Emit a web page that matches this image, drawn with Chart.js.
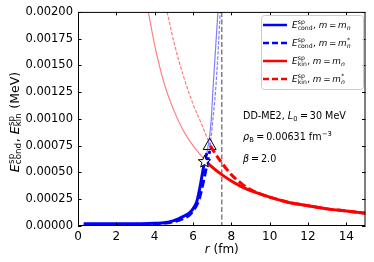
<!DOCTYPE html>
<html>
<head>
<meta charset="utf-8">
<script src="https://cdn.jsdelivr.net/npm/chart.js@4"></script>
<style>
  html, body { margin: 0; padding: 0; background: #fff; }
  canvas { display: block; }
</style>
</head>
<body>
<canvas id="myChart" width="374" height="262"></canvas>
<script>
// E_cond^sp, m = m_n (thick part, then faint continuation)
const condR = [0.3, 1, 2, 3, 4, 4.5, 5, 5.5, 5.8, 6.0, 6.2, 6.35, 6.5, 6.6, 6.72];
const condE = [0.00002, 0.00002, 0.00002, 0.00002, 0.000025, 0.00003, 0.00005, 0.00009, 0.00012, 0.00016, 0.00023, 0.00035, 0.0005, 0.0006, 0.00068];
const condThinR = [6.72, 6.85, 6.95, 7.04, 7.15, 7.3];
const condThinE = [0.00068, 0.00082, 0.00099, 0.00127, 0.00158, 0.002];

// E_cond^sp, m = m_n^*
const condStarR = [0.3, 1, 2, 3, 4, 4.5, 5, 5.5, 5.8, 6.0, 6.3, 6.5, 6.7, 6.87];
const condStarE = [0.00001, 0.00001, 0.00001, 0.000015, 0.00002, 0.000025, 0.00004, 0.00007, 0.0001, 0.00014, 0.00024, 0.00038, 0.00055, 0.0007];
const condStarThinR = [6.87, 7.0, 7.18, 7.3, 7.42];
const condStarThinE = [0.0007, 0.00093, 0.00127, 0.0016, 0.002];

// E_kin^sp, m = m_n
const kinR = [6.6, 7, 7.5, 8, 8.5, 9, 10, 11, 12, 13, 14, 15];
const kinE = [0.00062, 0.00055, 0.00048, 0.00042, 0.00037, 0.00033, 0.00027, 0.00022, 0.00019, 0.00016, 0.00014, 0.00012];
const kinThinR = [3.67, 4, 4.5, 5, 5.5, 6, 6.6];
const kinThinE = [0.002, 0.00169, 0.00133, 0.00108, 0.00089, 0.00075, 0.00062];

// E_kin^sp, m = m_n^*
const kinStarR = [6.9, 7, 7.5, 8, 8.5, 9, 9.5, 10, 11, 12, 13, 14, 15];
const kinStarE = [0.00075, 0.00072, 0.00059, 0.00048, 0.0004, 0.00034, 0.0003, 0.00027, 0.00022, 0.00019, 0.00016, 0.00014, 0.00012];
const kinStarThinR = [4.65, 5, 5.5, 6, 6.5, 6.9];
const kinStarThinE = [0.002, 0.00172, 0.0014, 0.00114, 0.00093, 0.00075];

// crossing markers and vertical line
const starR = [6.6];
const starE = [0.0006];
const triR = [6.87];
const triE = [0.00075];
const vlineR = 7.5;

const xTicks = [0, 2, 4, 6, 8, 10, 12, 14];
const yTicks = [0, 0.00025, 0.0005, 0.00075, 0.001, 0.00125, 0.0015, 0.00175, 0.002];

const FONT = '"DejaVu Sans"';
const TS = "\u2009"; // thin space around "="
function pts(xs, ys) {
  return xs.map((x, i) => ({ x: x, y: ys[i] }));
}
function line(xs, ys, color, width, dash) {
  return {
    data: pts(xs, ys),
    showLine: true,
    borderColor: color,
    borderWidth: width,
    borderDash: dash || [],
    pointRadius: 0,
    cubicInterpolationMode: "monotone",
    fill: false,
  };
}

function fnt(sz, it) {
  return (it ? "italic " : "") + sz + "px " + FONT;
}
function partWidth(ctx, p, sz) {
  if (p.t !== undefined) {
    ctx.font = fnt(sz, p.it);
    return ctx.measureText(p.t).width;
  }
  let w = 0;
  if (p.sup) {
    ctx.font = fnt(sz * 0.7, p.supIt);
    w = Math.max(w, ctx.measureText(p.sup).width);
  }
  if (p.sub) {
    ctx.font = fnt(sz * 0.7, p.subIt);
    w = Math.max(w, ctx.measureText(p.sub).width);
  }
  return w + sz * 0.06;
}
function drawRich(ctx, parts, x, y, sz, align) {
  const total = parts.reduce((a, p) => a + partWidth(ctx, p, sz), 0);
  let cx = align === "center" ? x - total / 2 : x;
  ctx.textAlign = "left";
  ctx.textBaseline = "alphabetic";
  ctx.fillStyle = "#000";
  parts.forEach((p) => {
    const w = partWidth(ctx, p, sz);
    if (p.t !== undefined) {
      ctx.font = fnt(sz, p.it);
      ctx.fillText(p.t, cx, y);
    } else {
      if (p.sup) {
        ctx.font = fnt(sz * 0.7, p.supIt);
        ctx.fillText(p.sup, cx + sz * 0.03, y - sz * 0.4);
      }
      if (p.sub) {
        ctx.font = fnt(sz * 0.7, p.subIt);
        ctx.fillText(p.sub, cx + sz * 0.01, y + sz * 0.22);
      }
    }
    cx += w;
  });
}

const eCond = [{ t: "E", it: true }, { sup: "sp", sub: "cond" }];
const eKin = [{ t: "E", it: true }, { sup: "sp", sub: "kin" }];
const mEq = [{ t: ", " }, { t: "m", it: true }, { t: TS + "=" + TS }, { t: "m", it: true }, { sub: "n", subIt: true }];
const mEqStar = [{ t: ", " }, { t: "m", it: true }, { t: TS + "=" + TS }, { t: "m", it: true }, { sub: "n", subIt: true, sup: "*" }];

const legendItems = [
  { color: "#0000ff", dash: [], text: eCond.concat(mEq) },
  { color: "#0000ff", dash: [6, 3], text: eCond.concat(mEqStar) },
  { color: "#ff0000", dash: [], text: eKin.concat(mEq) },
  { color: "#ff0000", dash: [6, 3], text: eKin.concat(mEqStar) },
];

const decorations = {
  id: "decorations",
  beforeDatasetsDraw(chart) {
    const { ctx, chartArea: a, scales } = chart;
    const vx = scales.x.getPixelForValue(vlineR);
    ctx.save();
    ctx.strokeStyle = "#808080";
    ctx.lineWidth = 1.5;
    ctx.setLineDash([5, 2.5]);
    ctx.beginPath();
    ctx.moveTo(vx, a.top);
    ctx.lineTo(vx, a.bottom);
    ctx.stroke();
    ctx.restore();
  },
  afterDatasetsDraw(chart) {
    const { ctx, chartArea: a, scales } = chart;
    ctx.save();
    // star marker
    starR.forEach((r, i) => {
      const px = scales.x.getPixelForValue(r);
      const py = scales.y.getPixelForValue(starE[i]);
      const R = 6.5, ri = 2.7;
      ctx.beginPath();
      for (let k = 0; k < 10; k++) {
        const ang = -Math.PI / 2 + (k * Math.PI) / 5;
        const rr = k % 2 === 0 ? R : ri;
        const X = px + rr * Math.cos(ang);
        const Y = py + rr * Math.sin(ang);
        if (k === 0) ctx.moveTo(X, Y);
        else ctx.lineTo(X, Y);
      }
      ctx.closePath();
      ctx.fillStyle = "#fff";
      ctx.fill();
      ctx.strokeStyle = "#000";
      ctx.lineWidth = 1;
      ctx.stroke();
    });

    // frame
    ctx.strokeStyle = "#000";
    ctx.lineWidth = 1;
    ctx.strokeRect(a.left + 0.5, a.top + 0.5, a.right - a.left - 1, a.bottom - a.top - 1);
    // inward ticks
    const tl = 3.5;
    ctx.beginPath();
    xTicks.forEach((v) => {
      const px = Math.round(scales.x.getPixelForValue(v)) + 0.5;
      ctx.moveTo(px, a.bottom);
      ctx.lineTo(px, a.bottom - tl);
      ctx.moveTo(px, a.top);
      ctx.lineTo(px, a.top + tl);
    });
    yTicks.forEach((v) => {
      const py = Math.round(scales.y.getPixelForValue(v)) + 0.5;
      ctx.moveTo(a.left, py);
      ctx.lineTo(a.left + tl, py);
      ctx.moveTo(a.right, py);
      ctx.lineTo(a.right - tl, py);
    });
    ctx.stroke();

    // legend
    const lx = 261, ly = 15, lw = 102, lh = 74;
    ctx.beginPath();
    ctx.roundRect(lx + 0.5, ly + 0.5, lw, lh, 3);
    ctx.fillStyle = "rgba(255,255,255,0.8)";
    ctx.fill();
    ctx.strokeStyle = "#cccccc";
    ctx.stroke();
    legendItems.forEach((it, i) => {
      const y = 25 + i * 18;
      ctx.strokeStyle = it.color;
      ctx.lineWidth = 2.5;
      ctx.setLineDash(it.dash);
      ctx.beginPath();
      ctx.moveTo(263, y);
      ctx.lineTo(287, y);
      ctx.stroke();
      ctx.setLineDash([]);
      drawRich(ctx, it.text, 292, y + 3, 8.8, "left");
    });

    // annotation text
    drawRich(ctx, [{ t: "DD-ME2, " }, { t: "L", it: true }, { sub: "0" }, { t: TS + "=" + TS + "30 MeV" }], 243, 119.3, 9.6, "left");
    drawRich(ctx, [{ t: "ρ", it: true }, { sub: "B" }, { t: TS + "=" + TS + "0.00631 fm" }, { sup: "−3" }], 243, 140, 9.6, "left");
    drawRich(ctx, [{ t: "β", it: true }, { t: TS + "=" + TS + "2.0" }], 243, 161.7, 9.6, "left");

    // axis titles
    drawRich(ctx, [{ t: "r", it: true }, { t: " (fm)" }], (a.left + a.right) / 2, 253, 12, "center");
    ctx.translate(14, 122);
    ctx.rotate(-Math.PI / 2);
    drawRich(ctx, eCond.concat([{ t: ", " }], eKin, [{ t: " (MeV)" }]), 0, 4.5, 12.5, "center");
    ctx.restore();
  },
};

Chart.defaults.font.family = FONT;
Chart.defaults.color = "#000";

const ctx = document.getElementById("myChart").getContext("2d");
const myChart = new Chart(ctx, {
  type: "scatter",
  data: {
    datasets: [
      line(kinThinR, kinThinE, "rgba(255,0,0,0.5)", 1.2),
      line(kinStarThinR, kinStarThinE, "rgba(255,0,0,0.5)", 1.2, [3.5, 1.6]),
      line(condThinR, condThinE, "rgba(0,0,255,0.5)", 1.2),
      line(condStarThinR, condStarThinE, "rgba(0,0,255,0.5)", 1.2, [3.5, 1.6]),
      line(condR, condE, "#0000ff", 3),
      line(condStarR, condStarE, "#0000ff", 3, [8, 3.5]),
      line(kinR, kinE, "#ff0000", 3),
      line(kinStarR, kinStarE, "#ff0000", 3, [8, 3.5]),
      {
        data: pts(triR, triE),
        pointStyle: "triangle",
        pointRadius: 7.5,
        pointBackgroundColor: "#fff",
        pointBorderColor: "#000",
        pointBorderWidth: 1,
        showLine: false,
        clip: false,
      },
    ],
  },
  options: {
    responsive: false,
    animation: false,
    devicePixelRatio: 1,
    layout: { padding: { top: 11, right: 6, left: 0, bottom: 0 } },
    plugins: { legend: { display: false }, tooltip: { enabled: false } },
    scales: {
      x: {
        type: "linear",
        min: 0,
        max: 15,
        grid: { display: false, drawTicks: false },
        border: { display: false },
        ticks: { font: { size: 12 }, padding: 4, maxRotation: 0, autoSkip: false },
        afterBuildTicks: (s) => {
          s.ticks = xTicks.map((v) => ({ value: v }));
        },
        afterFit: (s) => {
          s.height = 36;
        },
      },
      y: {
        type: "linear",
        min: 0,
        max: 0.002,
        grid: { display: false, drawTicks: false },
        border: { display: false },
        ticks: {
          font: { size: 11.5 },
          padding: 5,
          autoSkip: false,
          callback: (v) => Number(v).toFixed(5),
        },
        afterBuildTicks: (s) => {
          s.ticks = yTicks.map((v) => ({ value: v }));
        },
        afterFit: (s) => {
          s.width = 78;
        },
      },
    },
  },
  plugins: [decorations],
});
</script>
</body>
</html>
